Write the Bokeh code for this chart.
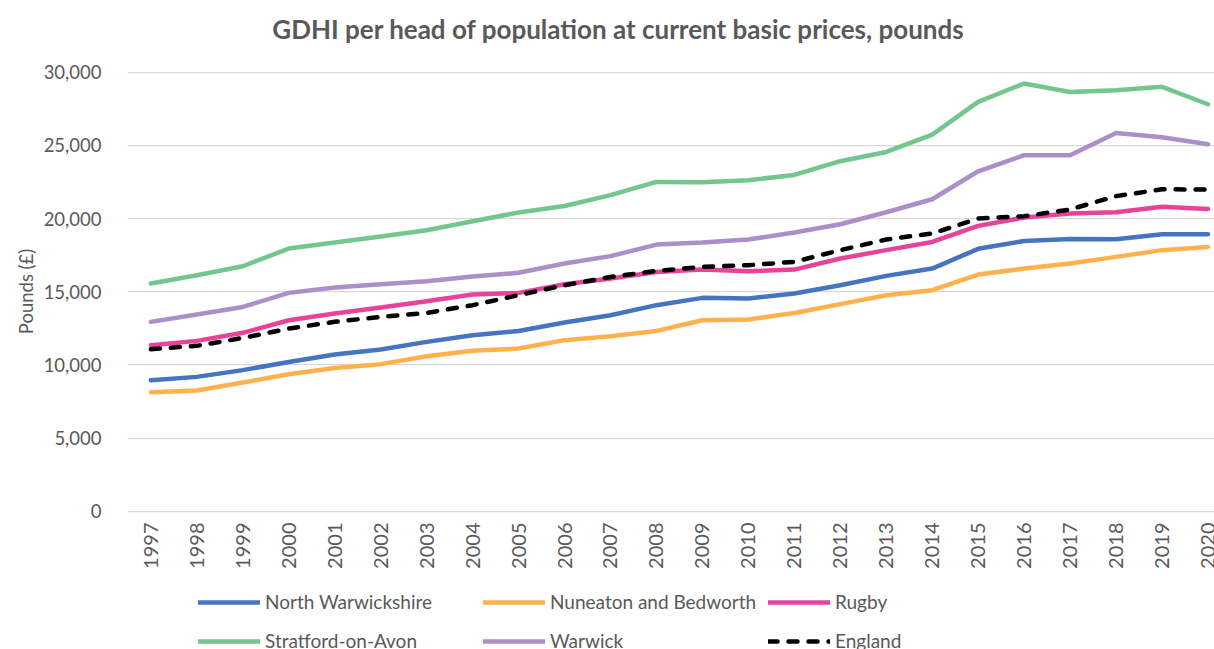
import math
from bokeh.plotting import figure
from bokeh.layouts import column
from bokeh.models import Range1d, FixedTicker, NumeralTickFormatter, Legend, LegendItem, Label
from bokeh.embed import file_html
from bokeh.resources import INLINE

years = list(range(1997, 2021))
north_warwickshire = [8950, 9180, 9640, 10200, 10710, 11050, 11570, 12030, 12320, 12890, 13390, 14080,
                      14580, 14530, 14880, 15440, 16080, 16580, 17930, 18470, 18610, 18580, 18930, 18930]
nuneaton_bedworth = [8130, 8250, 8790, 9360, 9790, 10050, 10590, 10960, 11120, 11690, 11960, 12320,
                     13050, 13100, 13550, 14150, 14760, 15100, 16170, 16580, 16930, 17380, 17840, 18060]
rugby = [11340, 11640, 12190, 13050, 13510, 13920, 14350, 14810, 14920, 15510, 15900, 16350,
         16510, 16400, 16510, 17270, 17840, 18400, 19500, 20070, 20340, 20430, 20800, 20660]
stratford = [15560, 16130, 16740, 17950, 18360, 18770, 19200, 19820, 20410, 20860, 21600, 22500,
             22480, 22620, 22980, 23920, 24550, 25740, 27970, 29230, 28650, 28770, 29000, 27810]
warwick = [12940, 13440, 13960, 14920, 15290, 15510, 15720, 16040, 16290, 16930, 17430, 18220,
           18360, 18570, 19040, 19610, 20430, 21320, 23230, 24330, 24330, 25850, 25560, 25080]
england = [11070, 11300, 11840, 12480, 12940, 13280, 13550, 14080, 14760, 15440, 16010, 16420,
           16700, 16810, 17040, 17840, 18570, 18980, 20000, 20160, 20620, 21530, 22000, 21980]

series_names = ["North Warwickshire", "Nuneaton and Bedworth", "Rugby", "Stratford-on-Avon", "Warwick", "England"]
series_values = [north_warwickshire, nuneaton_bedworth, rugby, stratford, warwick, england]
series_colors = ["#4674C1", "#FFB14E", "#E7439A", "#72C68E", "#AC8FC9", "#000000"]
y_ticks = [0, 5000, 10000, 15000, 20000, 25000, 30000]
title_text = "GDHI per head of population at current basic prices, pounds"

FONT = "Lato"
TXT = "#595959"
W = 1214
LEFT = 127


def style_for(name, col):
    kw = dict(line_color=col, line_width=4.5, line_cap="round", line_join="round")
    if name == "England":
        kw["line_dash"] = "9 11"
    return kw


def bare(height, x_range, y_range):
    f = figure(width=W, height=height, output_backend="svg", toolbar_location=None,
               x_range=x_range, y_range=y_range, x_axis_location=None, y_axis_location=None,
               min_border_left=LEFT, min_border_right=0, min_border_top=0, min_border_bottom=0)
    f.outline_line_color = None
    f.grid.visible = False
    return f


# ---- title strip ----
t = bare(50, Range1d(LEFT, W), Range1d(0, 50))
t.add_layout(Label(x=618, y=22, text=title_text, text_align="center", text_baseline="alphabetic",
                   text_font=FONT, text_font_style="bold", text_font_size="26px", text_color=TXT))

# ---- main chart ----
p = figure(width=W, height=526, output_backend="svg", toolbar_location=None,
           x_range=Range1d(1996.491, 2020.142), y_range=Range1d(-362, 30390),
           min_border_left=LEFT, min_border_right=0, min_border_top=16, min_border_bottom=60)

p.outline_line_color = None
p.xgrid.grid_line_color = None
p.ygrid.grid_line_color = "#D9D9D9"
p.ygrid.grid_line_width = 1.25
p.ygrid.ticker = FixedTicker(ticks=y_ticks)

p.xaxis.ticker = FixedTicker(ticks=years)
p.xaxis.major_label_orientation = math.pi / 2
p.xaxis.major_label_standoff = 0
p.xaxis.major_label_text_font_size = "20px"
p.yaxis.ticker = FixedTicker(ticks=y_ticks)
p.yaxis.formatter = NumeralTickFormatter(format="0,0")
p.yaxis.major_label_standoff = 20
p.yaxis.major_label_text_font_size = "18.5px"
p.yaxis.axis_label = "Pounds (£)"
p.yaxis.axis_label_standoff = 4
p.yaxis.axis_label_text_font_style = "normal"
p.yaxis.axis_label_text_font = FONT
p.yaxis.axis_label_text_font_size = "18.5px"
p.yaxis.axis_label_text_color = TXT
for ax in (p.xaxis, p.yaxis):
    ax.axis_line_color = None
    ax.major_tick_line_color = None
    ax.minor_tick_line_color = None
    ax.major_label_text_font = FONT
    ax.major_label_text_color = TXT

for name, vals, col in zip(series_names, series_values, series_colors):
    p.line(years, vals, **style_for(name, col))

# ---- legend strip below the chart ----
lg = bare(73, Range1d(0, 1), Range1d(0, 1))
items = []
for name, vals, col in zip(series_names, series_values, series_colors):
    r = lg.line(years, vals, **style_for(name, col))
    items.append(LegendItem(label=name, renderers=[r]))

legend = Legend(items=items, orientation="horizontal", ncols=3, location=(71, -9.7),
                glyph_width=62, glyph_height=36, label_height=36, label_width=215,
                label_standoff=5, spacing=3, padding=0, margin=0,
                border_line_color=None, background_fill_alpha=0,
                label_text_font=FONT, label_text_font_size="19px", label_text_color=TXT)
lg.add_layout(legend)

layout = column(t, p, lg, spacing=0)
open("out.html", "w").write(file_html(layout, INLINE))
